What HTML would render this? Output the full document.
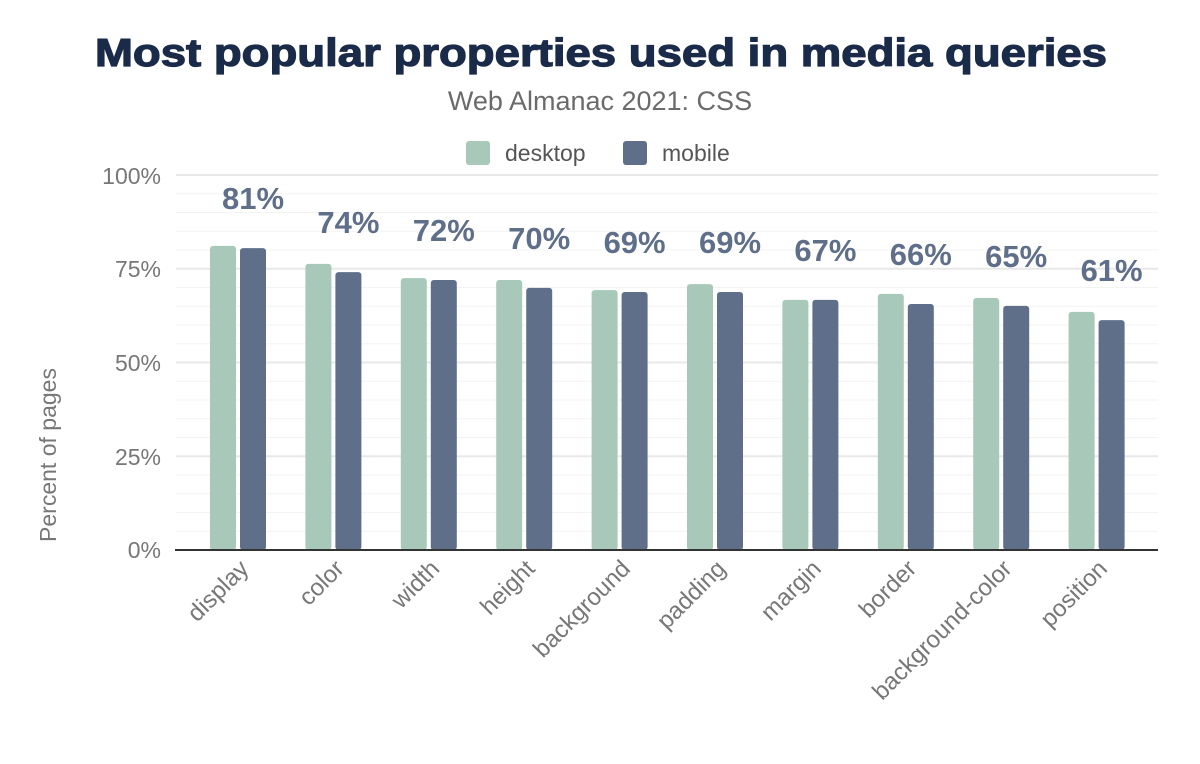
<!DOCTYPE html>
<html><head><meta charset="utf-8"><style>
html,body{margin:0;padding:0;background:#fff;}
svg{display:block;font-family:"Liberation Sans",sans-serif;}
</style></head><body>
<svg width="1200" height="764" viewBox="0 0 1200 764" xmlns="http://www.w3.org/2000/svg">
<rect width="1200" height="764" fill="#fff"/>
<text x="95" y="66" font-size="39" font-weight="900" fill="#1a2b49" stroke="#1a2b49" stroke-width="1.2" textLength="1012" lengthAdjust="spacingAndGlyphs">Most popular properties used in media queries</text>
<text x="600" y="110" text-anchor="middle" font-size="27" fill="#6b6b6b">Web Almanac 2021: CSS</text>
<rect x="466" y="141" width="24" height="24" rx="3" fill="#a8c9b9"/>
<text x="505" y="161" font-size="23" fill="#555">desktop</text>
<rect x="623" y="141" width="24" height="24" rx="3" fill="#5f6f8a"/>
<text x="662" y="161" font-size="23" fill="#555">mobile</text>
<g stroke="#f3f3f3" stroke-width="1">
<line x1="176" x2="1158" y1="193.75" y2="193.75"/><line x1="176" x2="1158" y1="212.5" y2="212.5"/><line x1="176" x2="1158" y1="231.25" y2="231.25"/><line x1="176" x2="1158" y1="250" y2="250"/>
<line x1="176" x2="1158" y1="287.5" y2="287.5"/><line x1="176" x2="1158" y1="306.25" y2="306.25"/><line x1="176" x2="1158" y1="325" y2="325"/><line x1="176" x2="1158" y1="343.75" y2="343.75"/>
<line x1="176" x2="1158" y1="381.25" y2="381.25"/><line x1="176" x2="1158" y1="400" y2="400"/><line x1="176" x2="1158" y1="418.75" y2="418.75"/><line x1="176" x2="1158" y1="437.5" y2="437.5"/>
<line x1="176" x2="1158" y1="475" y2="475"/><line x1="176" x2="1158" y1="493.75" y2="493.75"/><line x1="176" x2="1158" y1="512.5" y2="512.5"/><line x1="176" x2="1158" y1="531.25" y2="531.25"/>
</g>
<g stroke="#e8e8e8" stroke-width="2">
<line x1="176" x2="1158" y1="175" y2="175"/><line x1="176" x2="1158" y1="268.75" y2="268.75"/><line x1="176" x2="1158" y1="362.5" y2="362.5"/><line x1="176" x2="1158" y1="456.25" y2="456.25"/>
</g>
<g font-size="23" fill="#777" text-anchor="end">
<text x="161" y="184">100%</text><text x="161" y="277">75%</text><text x="161" y="371">50%</text><text x="161" y="465">25%</text><text x="161" y="558">0%</text>
</g>
<text transform="translate(56,455) rotate(-90)" text-anchor="middle" font-size="23" fill="#777">Percent of pages</text>
<g fill="#a8c9b9">
<rect x="210" y="245.9" width="26" height="304.1" rx="3"/>
<rect x="305.4" y="263.9" width="26" height="286.1" rx="3"/>
<rect x="400.8" y="278.1" width="26" height="271.9" rx="3"/>
<rect x="496.2" y="280" width="26" height="270" rx="3"/>
<rect x="591.6" y="290.1" width="26" height="259.9" rx="3"/>
<rect x="687" y="284.1" width="26" height="265.9" rx="3"/>
<rect x="782.4" y="299.9" width="26" height="250.1" rx="3"/>
<rect x="877.8" y="293.9" width="26" height="256.1" rx="3"/>
<rect x="973.2" y="298" width="26" height="252" rx="3"/>
<rect x="1068.6" y="311.9" width="26" height="238.1" rx="3"/>
</g>
<g fill="#5f6f8a">
<rect x="240" y="248.1" width="26" height="301.9" rx="3"/>
<rect x="335.4" y="272.1" width="26" height="277.9" rx="3"/>
<rect x="430.8" y="280" width="26" height="270" rx="3"/>
<rect x="526.2" y="287.9" width="26" height="262.1" rx="3"/>
<rect x="621.6" y="292" width="26" height="258" rx="3"/>
<rect x="717" y="292" width="26" height="258" rx="3"/>
<rect x="812.4" y="299.9" width="26" height="250.1" rx="3"/>
<rect x="907.8" y="304" width="26" height="246" rx="3"/>
<rect x="1003.2" y="305.9" width="26" height="244.1" rx="3"/>
<rect x="1098.6" y="320.1" width="26" height="229.9" rx="3"/>
</g>
<g font-size="31" font-weight="bold" fill="#5f6f8a" text-anchor="middle">
<text x="253" y="209">81%</text>
<text x="348.4" y="233">74%</text>
<text x="443.8" y="241">72%</text>
<text x="539.2" y="249">70%</text>
<text x="634.6" y="253">69%</text>
<text x="730" y="253">69%</text>
<text x="825.4" y="261">67%</text>
<text x="920.8" y="265">66%</text>
<text x="1016.2" y="267">65%</text>
<text x="1111.6" y="281">61%</text>
</g>
<g font-size="24" fill="#777" text-anchor="end">
<text transform="translate(250,570) rotate(-45)">display</text>
<text transform="translate(345.4,570) rotate(-45)">color</text>
<text transform="translate(440.8,570) rotate(-45)">width</text>
<text transform="translate(536.2,570) rotate(-45)">height</text>
<text transform="translate(631.6,570) rotate(-45)">background</text>
<text transform="translate(727,570) rotate(-45)">padding</text>
<text transform="translate(822.4,570) rotate(-45)">margin</text>
<text transform="translate(917.8,570) rotate(-45)">border</text>
<text transform="translate(1013.2,570) rotate(-45)">background-color</text>
<text transform="translate(1108.6,570) rotate(-45)">position</text>
</g>
<line x1="175" x2="1158" y1="550" y2="550" stroke="#333" stroke-width="2"/>
</svg>
</body></html>
